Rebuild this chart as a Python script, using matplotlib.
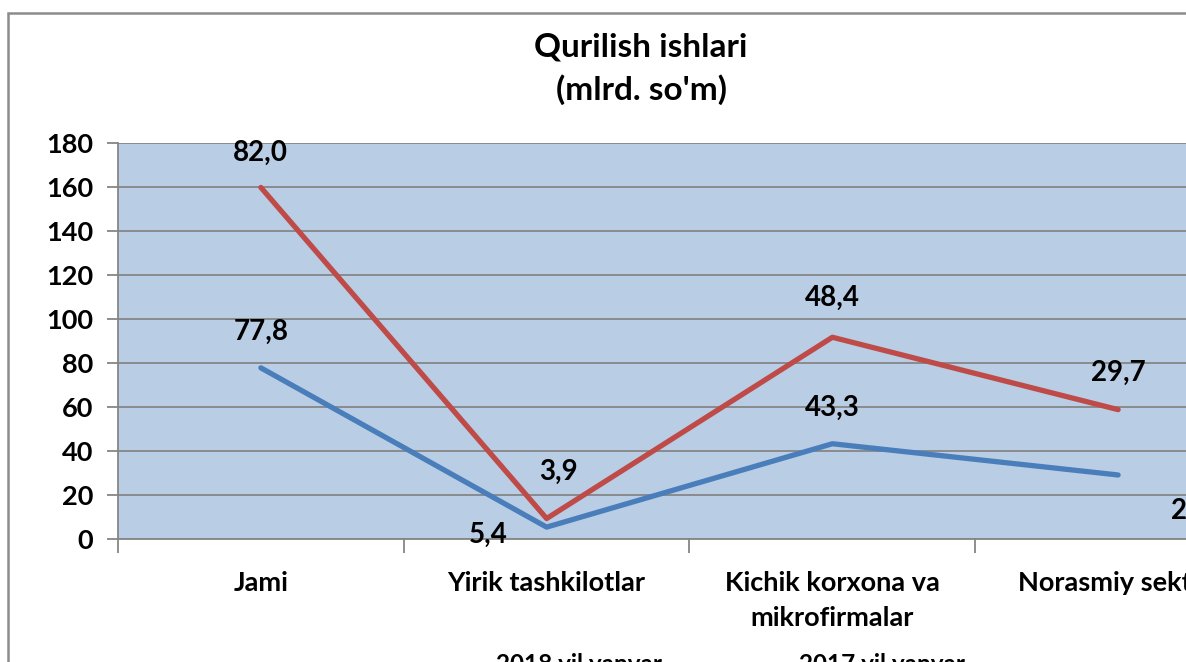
import numpy as np
import matplotlib.pyplot as plt
from matplotlib.patches import Rectangle

plt.rcParams['font.family'] = ['Lato', 'DejaVu Sans']
plt.rcParams['font.weight'] = 'bold'

categories = ['Jami', 'Yirik tashkilotlar', 'Kichik korxona va\nmikrofirmalar', 'Norasmiy sektor']
y2018 = [77.8, 5.4, 43.3, 29.1]
y2017 = [82.0, 3.9, 48.4, 29.7]
series_names = ['2018 yil yanvar', '2017 yil yanvar']
yticks = [0, 20, 40, 60, 80, 100, 120, 140, 160, 180]

W, H = 1186, 662
fig = plt.figure(figsize=(W / 100, H / 100), dpi=100)

# outer chart frame (partly cut off, like the reference)
fig.patches.append(Rectangle((8 / W, -0.1), 1.2, (662 - 13) / H + 0.1,
                             transform=fig.transFigure, fill=False,
                             edgecolor='#8c8c8c', lw=1.8))

ax = fig.add_axes([118 / W, (H - 539) / H, (1261 - 118) / W, (539 - 143) / H])
ax.set_facecolor('#B9CDE5')

x = np.arange(len(categories))
blue = np.array(y2018)
red = blue + np.array(y2017)  # stacked line

l1, = ax.plot(x, blue, color='#4A7EBB', lw=3.8, solid_capstyle='round', zorder=3)
l2, = ax.plot(x, red, color='#BE4B48', lw=3.8, solid_capstyle='round', zorder=3)

ax.set_xlim(-0.5, 3.5)
ax.set_ylim(0, 180)
ax.set_yticks(yticks)
ax.set_yticklabels([str(v) for v in yticks], fontsize=19.5, fontweight='bold')
ax.yaxis.grid(True, color='#868686', lw=1.3)
ax.set_axisbelow(True)

ax.set_xticks([-0.5, 0.5, 1.5, 2.5])
ax.set_xticklabels([])
ax.set_xticks(x, minor=True)
ax.set_xticklabels(categories, minor=True, fontsize=19.5, fontweight='bold', linespacing=1.55)
ax.tick_params(axis='x', which='minor', length=0, pad=23)
ax.tick_params(axis='x', which='major', length=10, color='#868686', width=1.3)
ax.tick_params(axis='y', length=8, color='#868686', width=1.3, pad=10)

for s in ['top', 'right']:
    ax.spines[s].set_visible(False)
for s in ['left', 'bottom']:
    ax.spines[s].set_color('#868686')
    ax.spines[s].set_linewidth(1.3)

# data labels (offsets in pixels)
red_off = [(0, 35), (12, 47), (0, 39), (0, 37)]
blue_off = [(0, 36), (-58, -8), (0, 36), (80, -36)]
for i in range(len(x)):
    ax.annotate(f'{y2017[i]:.1f}'.replace('.', ','), (x[i], red[i]),
                xytext=red_off[i], textcoords='offset pixels',
                ha='center', va='center', fontsize=20, fontweight='bold')
    ax.annotate(f'{y2018[i]:.1f}'.replace('.', ','), (x[i], blue[i]),
                xytext=blue_off[i], textcoords='offset pixels',
                ha='center', va='center', fontsize=20, fontweight='bold',
                annotation_clip=False)

fig.text(641 / W, 1 - 47 / H, 'Qurilish ishlari', ha='center', va='center',
         fontsize=24, fontweight='bold')
fig.text(641 / W, 1 - 90 / H, "(mlrd. so'm)", ha='center', va='center',
         fontsize=24, fontweight='bold')

fig.legend([l1, l2], series_names, loc='upper left', ncol=2, frameon=False,
           bbox_to_anchor=(394 / W, 1 - 631 / H),
           handlelength=2.5, columnspacing=2.35, prop={'weight': 'bold', 'size': 17.5})

fig.savefig('out.png', dpi=100)
